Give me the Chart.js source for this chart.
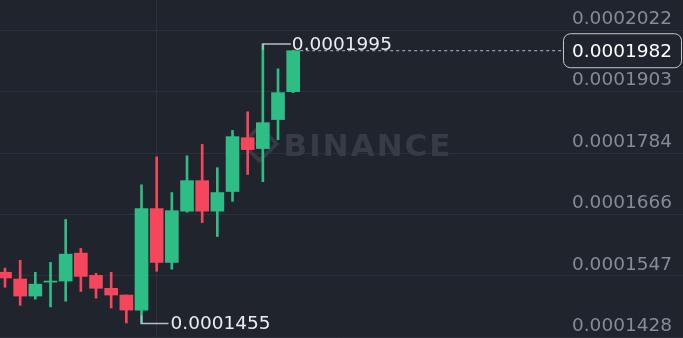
<!DOCTYPE html>
<html>
<head>
<meta charset="utf-8">
<script src="https://cdn.jsdelivr.net/npm/chart.js@4.4.1/dist/chart.umd.min.js"></script>
<style>
  html, body { margin: 0; padding: 0; background: #1f242d; }
  #wrap { width: 683px; height: 338px; }
</style>
</head>
<body>
<div id="wrap"><canvas id="myChart"></canvas></div>
<script>
const ctx = document.getElementById("myChart").getContext("2d");

// one entry per candle, oldest first
const opens  = [0.0001554, 0.0001541, 0.0001508, 0.0001535, 0.0001537, 0.0001591, 0.0001548, 0.0001523, 0.0001510, 0.0001481,
                0.0001677, 0.0001573, 0.0001672, 0.0001731, 0.0001672, 0.0001710, 0.0001814, 0.0001793, 0.0001849, 0.0001903];
const closes = [0.0001543, 0.0001508, 0.0001531, 0.0001537, 0.0001589, 0.0001546, 0.0001523, 0.0001510, 0.0001481, 0.0001677,
                0.0001573, 0.0001673, 0.0001731, 0.0001672, 0.0001708, 0.0001816, 0.0001791, 0.0001843, 0.0001901, 0.0001982];
const highs  = [0.0001562, 0.0001577, 0.0001554, 0.0001573, 0.0001656, 0.0001600, 0.0001552, 0.0001554, 0.0001510, 0.0001723,
                0.0001777, 0.0001708, 0.0001779, 0.0001801, 0.0001756, 0.0001828, 0.0001864, 0.0001995, 0.0001947, 0.0001983];
const lows   = [0.0001525, 0.0001490, 0.0001502, 0.0001487, 0.0001498, 0.0001517, 0.0001504, 0.0001485, 0.0001456, 0.0001455,
                0.0001556, 0.0001560, 0.0001670, 0.0001650, 0.0001623, 0.0001691, 0.0001743, 0.0001729, 0.0001810, 0.0001901];

const tickValues = [0.0001428, 0.0001547, 0.0001666, 0.0001784, 0.0001903, 0.0002022];
const tickLabels = ["0.0001428", "0.0001547", "0.0001666", "0.0001784", "0.0001903", "0.0002022"];

const highLabel = "0.0001995";
const lowLabel = "0.0001455";
const lastLabel = "0.0001982";

const GREEN = "#2ebd85";
const RED = "#f6465d";
const BG = "#1f242d";
const GRID = "#2b303a";
const FONT = "DejaVu Sans";

const candleColor = (c) => closes[c.dataIndex] >= opens[c.dataIndex] ? GREEN : RED;

const overlay = {
  id: "overlay",
  beforeDatasetsDraw(chart) {
    const c = chart.ctx;
    const a = chart.chartArea;
    const cx = a.left + a.width * 0.38;
    const cy = a.top + a.height * 0.425;
    c.save();
    // watermark logo
    c.strokeStyle = "#353a44";
    c.fillStyle = "#353a44";
    c.lineWidth = 4;
    c.beginPath();
    c.moveTo(cx, cy - 17); c.lineTo(cx + 17, cy); c.lineTo(cx, cy + 17); c.lineTo(cx - 17, cy); c.closePath();
    c.stroke();
    c.beginPath();
    c.moveTo(cx, cy - 5); c.lineTo(cx + 5, cy); c.lineTo(cx, cy + 5); c.lineTo(cx - 5, cy); c.closePath();
    c.fill();
    // watermark word
    c.fillStyle = "#363b45";
    c.font = "bold 31px " + FONT;
    c.letterSpacing = "2px";
    c.textAlign = "left";
    c.textBaseline = "alphabetic";
    c.fillText("BINANCE", cx + 24, cy + 12);
    c.restore();
  },
  afterDatasetsDraw(chart) {
    const c = chart.ctx;
    const xs = chart.scales.x;
    const ys = chart.scales.y;
    const hi = highs.indexOf(Math.max(...highs));
    const lo = lows.indexOf(Math.min(...lows));
    const last = closes.length - 1;
    c.save();
    c.font = "18.5px " + FONT;
    c.textBaseline = "middle";
    c.lineWidth = 1.5;
    c.strokeStyle = "#b7bdc6";

    // high marker
    let x = xs.getPixelForValue(hi);
    let y = ys.getPixelForValue(highs[hi]);
    c.beginPath(); c.moveTo(x, y + 6); c.lineTo(x, y); c.lineTo(x + 28, y); c.stroke();
    c.fillStyle = "#eaecef";
    c.textAlign = "left";
    c.fillText(highLabel, x + 29, y + 1);

    // low marker
    x = xs.getPixelForValue(lo);
    y = ys.getPixelForValue(lows[lo]);
    c.beginPath(); c.moveTo(x, y - 8); c.lineTo(x, y); c.lineTo(x + 27, y); c.stroke();
    c.fillText(lowLabel, x + 29, y + 1);

    // last price line + box
    const boxR = chart.width - 2;
    const boxL = boxR - 118;
    y = ys.getPixelForValue(closes[last]);
    c.lineWidth = 1;
    c.setLineDash([3, 3]);
    c.beginPath(); c.moveTo(xs.getPixelForValue(last) + 7, y); c.lineTo(boxL, y); c.stroke();
    c.setLineDash([]);
    c.beginPath();
    c.roundRect(boxL + 0.5, y - 17, 118, 34, 7);
    c.fillStyle = BG;
    c.fill();
    c.strokeStyle = "#c3c8cf";
    c.stroke();
    c.fillStyle = "#ffffff";
    c.textAlign = "center";
    c.fillText(lastLabel, boxL + 59, y + 1);
    c.restore();
  }
};

const idx = opens.map((v, i) => i);

const data = {
  datasets: [
    {
      label: "body",
      data: idx.map(i => ({ x: i, y: [opens[i], closes[i]] })),
      backgroundColor: candleColor,
      barThickness: 13,
      grouped: false,
      order: 0,
    },
    {
      label: "wick",
      data: idx.map(i => ({ x: i, y: [lows[i], highs[i]] })),
      backgroundColor: candleColor,
      barThickness: 2,
      grouped: false,
      order: 1,
    },
  ],
};

const config = {
  type: "bar",
  data: data,
  plugins: [overlay],
  options: {
    responsive: true,
    maintainAspectRatio: false,
    animation: false,
    layout: { padding: 0 },
    plugins: { legend: { display: false }, tooltip: { enabled: false } },
    scales: {
      x: {
        type: "linear",
        offset: false,
        min: -0.33,
        max: 44.7,
        afterBuildTicks: (s) => { s.ticks = [{ value: 10 }]; },
        ticks: { display: false },
        grid: { color: GRID, drawTicks: false, lineWidth: 1, offset: false },
        border: { display: false },
      },
      y: {
        position: "right",
        min: 0.0001427,
        max: 0.0002080,
        afterBuildTicks: (s) => { s.ticks = tickValues.map(v => ({ value: v })); },
        afterFit: (s) => { s.width = 0; s.paddingTop = 0; s.paddingBottom = 0; },
        ticks: {
          mirror: true,
          padding: -11,
          labelOffset: -11,
          color: "#858c97",
          font: { family: FONT, size: 18.5 },
          callback: (value, index) => tickLabels[index],
        },
        grid: { color: GRID, drawTicks: false, lineWidth: 1 },
        border: { display: false },
      },
    },
  },
};

const myChart = new Chart(ctx, config);
</script>
</body>
</html>
